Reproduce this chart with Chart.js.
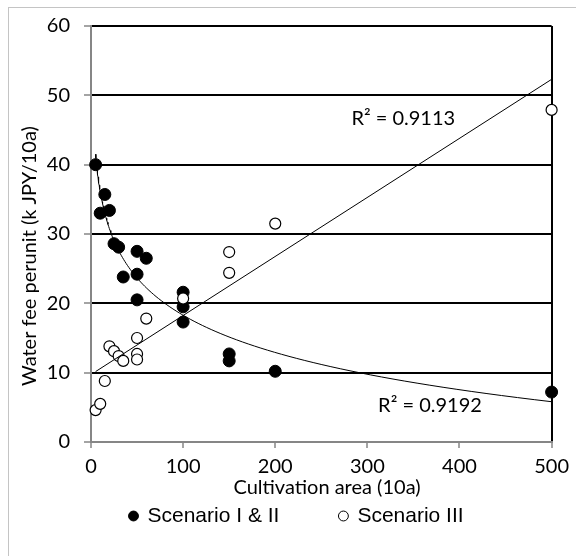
<!DOCTYPE html>
<html><head><meta charset="utf-8">
<script src="https://cdn.jsdelivr.net/npm/chart.js@4"></script>
<style>html,body{margin:0;padding:0;background:#fff}</style>
</head><body>
<canvas id="c" width="576" height="556"></canvas>
<script>
// ---- data ----
const scen12X = [5, 10, 15, 20, 25, 30, 35, 50, 50, 50, 60, 100, 100, 100, 150, 150, 200, 500];
const scen12Y = [40, 33, 35.7, 33.4, 28.6, 28.1, 23.8, 27.5, 24.2, 20.5, 26.5, 21.6, 19.5, 17.3, 12.7, 11.7, 10.2, 7.2];
const scen3X = [5, 10, 15, 20, 25, 30, 35, 50, 50, 50, 60, 100, 150, 150, 200, 500];
const scen3Y = [4.6, 5.5, 8.8, 13.8, 13.1, 12.4, 11.7, 15, 12.7, 11.9, 17.8, 20.7, 27.4, 24.4, 31.5, 47.9];
const seriesNames = ['Scenario I & II', 'Scenario III'];
const xTickValues = [0, 100, 200, 300, 400, 500];
const yTickValues = [0, 10, 20, 30, 40, 50, 60];
const xTitle = 'Cultivation area (10a)';
const yTitle = 'Water fee perunit (k JPY/10a)';
const r2Texts = ['R\u00B2 = 0.9113', 'R\u00B2 = 0.9192'];

// ---- least-squares trendlines (as the spreadsheet computed them) ----
function fitLinear(xs, ys) {
  const n = xs.length;
  const mx = xs.reduce((a, b) => a + b, 0) / n;
  const my = ys.reduce((a, b) => a + b, 0) / n;
  let sxy = 0, sxx = 0;
  for (let i = 0; i < n; i++) { sxy += (xs[i] - mx) * (ys[i] - my); sxx += (xs[i] - mx) ** 2; }
  const b = sxy / sxx;
  return { a: my - b * mx, b };
}
const lin3 = fitLinear(scen3X, scen3Y);
const log12 = fitLinear(scen12X.map(Math.log), scen12Y);
const lin3Pts = [Math.min(...scen3X), Math.max(...scen3X)].map(x => ({ x, y: lin3.a + lin3.b * x }));
const log12Pts = [];
{
  const x0 = Math.min(...scen12X), x1 = Math.max(...scen12X), N = 120;
  for (let i = 0; i <= N; i++) {
    const x = x0 * Math.pow(x1 / x0, i / N);
    log12Pts.push({ x, y: log12.a + log12.b * Math.log(x) });
  }
}

const FONT = 'Lato';
const FS = 20;
const AXIS_GRAY = '#868686';

const framePlugin = {
  id: 'frame',
  beforeDraw(chart) {
    const c = chart.ctx;
    c.save();
    c.fillStyle = '#fff';
    c.fillRect(0, 0, chart.width, chart.height);
    c.strokeStyle = '#c4c4c4';
    c.lineWidth = 1;
    c.strokeRect(8.5, 7.5, 700, 700);
    c.restore();
  }
};

const legendShift = {
  id: 'legendShift',
  afterLayout(chart) {
    const lg = chart.legend;
    if (lg) { lg.left = 122; }
  }
};

const textPlugin = {
  id: 'texts',
  afterDraw(chart) {
    const c = chart.ctx, xs = chart.scales.x, ys = chart.scales.y;
    c.save();
    c.fillStyle = '#000';
    c.font = FS + 'px ' + FONT;
    c.textAlign = 'center';
    c.textBaseline = 'middle';
    c.fillText(xTitle, 327, 488);
    c.save();
    c.translate(30, 256);
    c.rotate(-Math.PI / 2);
    c.fillText(yTitle, 0, 0);
    c.restore();
    c.fillText(r2Texts[0], xs.getPixelForValue(339), ys.getPixelForValue(46.6));
    c.fillText(r2Texts[1], xs.getPixelForValue(368), ys.getPixelForValue(5.3));
    c.restore();
  }
};

new Chart(document.getElementById('c'), {
  type: 'scatter',
  data: {
    datasets: [
      { label: seriesNames[0], data: scen12X.map((x, i) => ({ x, y: scen12Y[i] })),
        backgroundColor: '#000', borderColor: '#000', borderWidth: 1, pointRadius: 6, pointHoverRadius: 6,
        order: 3, clip: false },
      { label: seriesNames[1], data: scen3X.map((x, i) => ({ x, y: scen3Y[i] })),
        backgroundColor: '#fff', borderColor: '#000', borderWidth: 1.2, pointRadius: 5.5, pointHoverRadius: 5.5,
        order: 2, clip: false },
      { label: 'Linear (Scenario III)', type: 'line', data: lin3Pts, borderColor: '#000', borderWidth: 1,
        pointRadius: 0, fill: false, tension: 0, order: 1, clip: false },
      { label: 'Log. (Scenario I & II)', type: 'line', data: log12Pts, borderColor: '#000', borderWidth: 1,
        pointRadius: 0, fill: false, tension: 0, order: 1, clip: false }
    ]
  },
  options: {
    responsive: false,
    animation: false,
    devicePixelRatio: 1,
    layout: { padding: { top: 25, right: 24.3, bottom: 19.5, left: 0 } },
    plugins: {
      tooltip: { enabled: false },
      legend: {
        position: 'bottom',
        align: 'start',
        labels: {
          usePointStyle: true, pointStyle: 'circle', boxWidth: 7, boxHeight: 7, padding: 8,
          color: '#000', font: { family: 'Liberation Sans', size: 21 },
          filter: (item) => item.datasetIndex < 2,
          sort: (a, b) => a.datasetIndex - b.datasetIndex,
          generateLabels: (chart) => {
            const items = Chart.defaults.plugins.legend.labels.generateLabels(chart);
            items.forEach(it => {
              if (it.datasetIndex === 0) it.text = it.text + '\u00A0'.repeat(9);
              it.lineWidth = 1;
            });
            return items;
          }
        }
      }
    },
    scales: {
      x: {
        type: 'linear', min: 0, max: 500,
        afterBuildTicks: (s) => { s.ticks = xTickValues.map(v => ({ value: v })); },
        afterFit: (s) => { s.height = 55.5; },
        ticks: { color: '#000', font: { family: FONT, size: FS }, padding: 7, maxRotation: 0 },
        grid: {
          drawOnChartArea: true, drawTicks: true, tickLength: 6, tickWidth: 1.5, tickColor: AXIS_GRAY,
          color: (ctx) => (ctx.tick && ctx.tick.value === 500) ? '#000' : 'rgba(0,0,0,0)',
          lineWidth: 2
        },
        border: { display: true, color: AXIS_GRAY, width: 2 }
      },
      y: {
        type: 'linear', min: 0, max: 60,
        afterBuildTicks: (s) => { s.ticks = yTickValues.map(v => ({ value: v })); },
        afterFit: (s) => { s.width = 91; },
        ticks: { color: '#000', font: { family: FONT, size: FS }, padding: 14 },
        grid: {
          drawOnChartArea: true, drawTicks: true, tickLength: 7, tickWidth: 1.5, tickColor: AXIS_GRAY,
          color: (ctx) => (ctx.tick && ctx.tick.value === 0) ? 'rgba(0,0,0,0)' : '#000',
          lineWidth: 2
        },
        border: { display: true, color: AXIS_GRAY, width: 2 }
      }
    }
  },
  plugins: [framePlugin, legendShift, textPlugin]
});
</script>
</body></html>
